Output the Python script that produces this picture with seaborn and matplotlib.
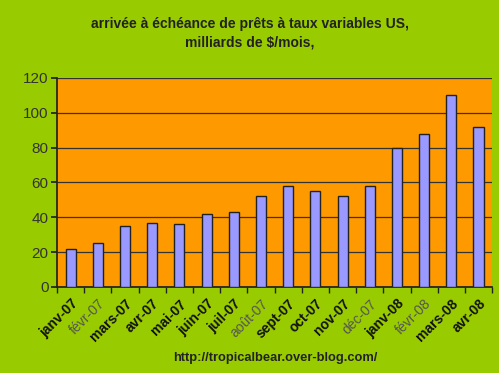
import numpy as np
import pandas as pd
import seaborn as sns
import matplotlib
matplotlib.use("Agg")
import matplotlib.pyplot as plt
from matplotlib.ticker import FixedLocator

# echeances mensuelles, milliards de $
mois = ["janv-07", "févr-07", "mars-07", "avr-07", "mai-07", "juin-07", "juil-07", "août-07",
        "sept-07", "oct-07", "nov-07", "déc-07", "janv-08", "févr-08", "mars-08", "avr-08"]
montants = [22, 25, 35, 37, 36, 42, 43, 52, 58, 55, 52, 58, 80, 88, 110, 92]
graduations = [0, 20, 40, 60, 80, 100, 120]

df = pd.DataFrame({"mois": mois, "montant": montants})

sns.set_theme(style="white")
plt.rcParams["font.family"] = ["Liberation Sans", "DejaVu Sans"]

fig = plt.figure(figsize=(4.99, 3.73), dpi=100, facecolor="#99CC00")
ax = fig.add_axes([0.1142, 0.2306, 0.872, 0.5604])
ax.set_facecolor("#FF9900")

sns.barplot(data=df, x="mois", y="montant", color="#9999FF", width=0.37,
            edgecolor="#222222", linewidth=1.0, saturation=1, ax=ax, zorder=3)

ax.set_ylim(0, 120)
ax.set_xlim(-0.5, len(mois) - 0.5)
ax.set_yticks(graduations)
ax.yaxis.grid(True, color="#333333", linewidth=0.9, zorder=0)
ax.set_axisbelow(True)
ax.set_xlabel("")
ax.set_ylabel("")

for s in ["top", "right"]:
    ax.spines[s].set_visible(False)
ax.spines["left"].set_color("#222222")
ax.spines["bottom"].set_color("#222222")

ax.tick_params(axis="y", left=True, length=4, color="#222222", labelsize=11,
               labelcolor="#333333", pad=2)
ax.tick_params(axis="x", bottom=False, labelsize=10, pad=1)
ax.xaxis.set_minor_locator(FixedLocator(np.arange(-0.5, len(mois), 1.0)))
ax.tick_params(axis="x", which="minor", bottom=True, length=4, color="#222222")

# les libelles accentues sont plus pales dans l'original
pales = {"févr-07", "août-07", "déc-07", "févr-08"}
for lab in ax.get_xticklabels():
    lab.set_rotation(45)
    lab.set_ha("right")
    lab.set_rotation_mode("anchor")
    if lab.get_text() in pales:
        lab.set_color("#555555")
        lab.set_fontweight("normal")
    else:
        lab.set_color("#111111")
        lab.set_fontweight("bold")

fig.text(0.5, 0.955, "arrivée à échéance de prêts à taux variables US,\nmilliards de $/mois,",
         ha="center", va="top", fontsize=10, fontweight="bold", color="#222222",
         linespacing=1.4)
fig.text(0.551, 0.04, "http://tropicalbear.over-blog.com/", ha="center", va="center",
         fontsize=9.3, fontweight="bold", color="#222222")

fig.savefig("out.png", dpi=100, facecolor=fig.get_facecolor())
